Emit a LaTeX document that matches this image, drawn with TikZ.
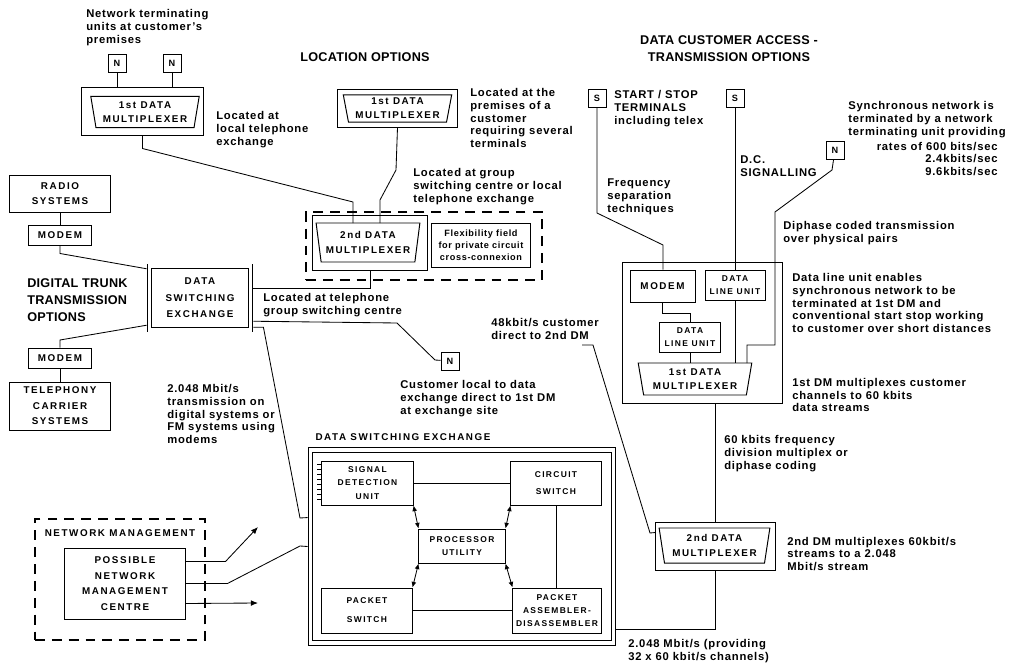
\documentclass[tikz,border=0pt]{standalone}
\usepackage{fontspec}
\setmainfont{Liberation Sans}[LetterSpace=7]
\newfontfamily\capsfont{Liberation Sans}[LetterSpace=16]
\newfontfamily\headfont{Liberation Sans}[LetterSpace=2]
\usetikzlibrary{positioning,shapes.geometric,arrows.meta,calc}

\newcommand\notesize{\bfseries\fontsize{8}{9.2}\selectfont}
\newcommand\boxfont{\capsfont\bfseries\fontsize{7}{11}\selectfont}
\newcommand\unitfont{\capsfont\bfseries\fontsize{6}{9.5}\selectfont}

\tikzset{
  box/.style={draw, line width=0.7pt, inner sep=0pt, align=center, font=\boxfont},
  unit/.style={box, font=\unitfont},
  dbox/.style={box, double, double distance=2.6pt, line width=0.6pt},
  tbox/.style={box, minimum size=0.45cm, font=\bfseries\fontsize{6.5}{7}\selectfont},
  mux/.style={draw, line width=0.7pt, trapezium, shape border rotate=180,
    trapezium stretches=true, trapezium angle=78, inner sep=0pt, align=center,
    font=\capsfont\bfseries\fontsize{7}{10}\selectfont},
  dashframe/.style={draw, line width=0.9pt, dash pattern=on 7pt off 5pt, inner sep=0pt},
  note/.style={anchor=west, align=left, inner sep=0pt, font=\notesize},
  head/.style={anchor=west, align=left, inner sep=0pt, font=\headfont\bfseries\fontsize{9}{12}\selectfont},
  wire/.style={line width=0.6pt},
  link/.style={wire, {Latex[length=4pt,width=3.5pt]}-{Latex[length=4pt,width=3.5pt]}},
  feed/.style={wire, -{Latex[length=5pt,width=4pt]}},
}

\begin{document}
\begin{tikzpicture}[x=0.025cm, y=-0.025cm]
\useasboundingbox (0,0) rectangle (1009,664);

% Opciones de localizacion
\node[note] (ntuText) at (86,28) {Network terminating\\units at customer's\\premises};
\node[tbox] (n1) at (117,63) {N};
\node[tbox] (n2) at (172,63) {N};
\node[box, minimum width=3.03cm, minimum height=1.2cm] (dm1a) at (142.5,111) {};
\node[mux, minimum width=2.72cm, minimum height=0.78cm] (dm1aT) at (145,112) {1st DATA\\MULTIPLEXER};
\draw[wire] (n1) -- (n1 |- dm1a.north);
\draw[wire] (n2) -- (n2 |- dm1a.north);
\node[note] (dm1aText) at (216,130) {Located at\\local telephone\\exchange};

\node[head, anchor=center] (locHead) at (365,57) {LOCATION OPTIONS};

\node[box, minimum width=2.98cm, minimum height=0.95cm] (dm1b) at (397.5,108) {};
\node[mux, minimum width=2.72cm, minimum height=0.68cm] (dm1bT) at (397.5,108.5) {1st DATA\\MULTIPLEXER};
\node[note] (dm1bText) at (470,118) {Located at the\\premises of a\\customer\\requiring several\\terminals};
\node[note] (siteText) at (413,187) {Located at group\\switching centre or local\\telephone exchange};

\node[dashframe, minimum width=5.9cm, minimum height=1.7cm] (site) at (424,246) {};
\node[box, minimum width=2.85cm, minimum height=1.375cm] (dm2a) at (370,242.5) {};
\node[mux, minimum width=2.6cm, minimum height=0.975cm] (dm2aT) at (368,242.5) {2nd DATA\\MULTIPLEXER};
\node[box, minimum width=2.45cm, minimum height=1.1cm, font=\bfseries\fontsize{6.5}{8.5}\selectfont] (flex) at (481,245) {Flexibility field\\for private circuit\\cross-connexion};
\coordinate (dm2aTop) at ($(dm2aT.center)+(0,-19.5)$);

\coordinate (k1) at (353,202);
\draw[wire] (dm1a.south) -- ++(0,13) -- (k1) -- (k1 |- dm2aTop);
\coordinate (k2) at (380,200);
\draw[wire] (dm1b.south) -- (396,170) -- (k2) -- (k2 |- dm2aTop);

% Transmision troncal
\node[dbox, minimum width=2.525cm, minimum height=1.59cm, font=\capsfont\bfseries\fontsize{7}{11.7}\selectfont] (dse) at (200,298) {DATA\\SWITCHING\\EXCHANGE};
\draw[wire] (dm2a.south) -- ++(0,18) coordinate (k3) -- ($(k3 -| dse.east)+(2.5,0)$);
\node[note] (dseText) at (263,305) {Located at telephone\\group switching centre};
\node[tbox] (n3) at (450,361) {N};
\draw[wire] ($(dse.south east)+(2.5,-9)$) -- (397,323) -- (435,360) -- (n3);
\node[note] (n3Text) at (400,399) {Customer local to data\\exchange direct to 1st DM\\at exchange site};

\node[box, minimum width=2.5cm, minimum height=0.925cm] (radio) at (60,193.5) {RADIO\\SYSTEMS};
\node[box, minimum width=1.55cm, minimum height=0.5cm] (modemA) at (60,235) {MODEM};
\draw[wire] (radio) -- (modemA);
\draw[wire] (modemA.south) -- ++(0,8) -- ($(dse.north west)+(-2.5,3)$);
\node[head] (dttHead) at (27,300) {DIGITAL TRUNK\\TRANSMISSION\\OPTIONS};
\node[box, minimum width=1.55cm, minimum height=0.5cm] (modemB) at (60,358) {MODEM};
\draw[wire] ($(dse.south west)+(-2.5,-5)$) -- (60,340) -- (modemB.north);
\node[box, minimum width=2.5cm, minimum height=1.2cm] (tel) at (60,406) {TELEPHONY\\CARRIER\\SYSTEMS};
\draw[wire] (modemB) -- (tel);
\node[note] (trunkText) at (167,414) {2.048 Mbit/s\\transmission on\\digital systems or\\FM systems using\\modems};

% Central de conmutacion de datos
\node[dbox, minimum width=7.575cm, minimum height=4.825cm] (xch) at (462,546.5) {};
\node[font=\boxfont, inner sep=0pt] (xchHead) at (403,437) {DATA SWITCHING EXCHANGE};
\draw[wire] ($(dse.south east)+(2.5,-3)$) -- ++(10,0) -- (300,518) -- ($(xch.north west)+(-2.5,68)$);

\node[unit, minimum width=2.275cm, minimum height=1.1cm] (sdu) at (367.5,483) {SIGNAL\\DETECTION\\UNIT};
\node[unit, minimum width=2.25cm, minimum height=1.1cm] (csw) at (556,483) {CIRCUIT\\[3pt]SWITCH};
\node[unit, minimum width=2.15cm, minimum height=0.85cm] (pu) at (462,546) {PROCESSOR\\UTILITY};
\node[unit, minimum width=2.25cm, minimum height=1.125cm] (psw) at (367,610.5) {PACKET\\[4pt]SWITCH};
\node[unit, minimum width=2.2cm, minimum height=1.125cm] (pad) at (557,610.5) {PACKET\\ASSEMBLER-\\DISASSEMBLER};

\draw[wire] (sdu) -- (csw);
\draw[wire] (psw) -- (pad);
\draw[wire] (csw.south) -- (csw.south |- pad.north);
\draw[link] (sdu.south east) -- (pu.north west);
\draw[link] (csw.south west) -- (pu.north east);
\draw[link] (pu.south west) -- (psw.north east);
\draw[link] (pu.south east) -- (pad.north west);
\foreach \t in {4,9,...,39}
  \draw[wire] ($(sdu.north west)+(0,\t)$) -- ++(-4,0);

% Gestion de red
\node[dashframe, minimum width=4.25cm, minimum height=3.025cm] (nm) at (120,579.5) {};
\node[font=\boxfont, inner sep=0pt] (nmHead) at (120,533) {NETWORK MANAGEMENT};
\node[box, minimum width=3cm, minimum height=1.775cm] (nmc) at (125,583.5) {POSSIBLE\\NETWORK\\MANAGEMENT\\CENTRE};
\coordinate (nmo1) at (258,527);
\coordinate (nmo3) at (258,603);
\draw[feed] ($(nmc.north east)+(0,14)$) -- ++(40,0) -- (nmo1);
\draw[wire] (nmc.east) -- ++(42,0) -- (300,546) -- ($(xch.west)+(-2.5,0)$);
\draw[feed] ($(nmc.south east)+(0,-16)$) -- (nmo3);

% Acceso de clientes
\node[head, anchor=center, align=center] (dcaHead) at (729,49) {DATA CUSTOMER ACCESS -\\TRANSMISSION OPTIONS};
\node[tbox] (s1) at (597,98) {S};
\node[note] (s1Text) at (614,109) {START / STOP\\TERMINALS\\including telex};
\node[tbox] (s2) at (735,98) {S};
\node[note] (s2Text) at (740,166) {D.C.\\SIGNALLING};
\node[tbox] (nR) at (835,150) {N};
\node[note] (syncText) at (848,120) {Synchronous network is\\terminated by a network\\terminating unit providing};
\node[note, anchor=east, align=right] (rateText) at (998,159) {rates of 600 bits/sec\\2.4kbits/sec\\9.6kbits/sec};
\node[note] (fsText) at (607,197) {Frequency\\separation\\techniques};
\node[note] (dipText) at (783,233) {Diphase coded transmission\\over physical pairs};

\node[box, minimum width=3.975cm, minimum height=3.5cm] (acc) at (702.5,333) {};
\node[box, minimum width=1.625cm, minimum height=0.8cm] (modemC) at (662.5,286) {MODEM};
\node[unit, minimum width=1.5cm, minimum height=0.75cm] (dluA) at (735,285) {DATA\\LINE UNIT};
\node[unit, minimum width=1.525cm, minimum height=0.75cm] (dluB) at (690,337) {DATA\\LINE UNIT};
\node[mux, minimum width=2.85cm, minimum height=0.8cm] (dm1c) at (695,379) {1st DATA\\MULTIPLEXER};
\coordinate (dm1cTop) at ($(dm1c.center)+(0,-16)$);

\coordinate (s1a) at (597,213);
\coordinate (s1b) at (663,245);
\draw[wire] (s1) -- (s1a) -- (s1b) -- (s1b |- modemC.north);
\draw[wire] (s2) -- (dluA);
\draw[wire] (dluA) -- (dluA |- dm1cTop);
\coordinate (nr1) at (775,212);
\coordinate (nr2) at (747,345);
\draw[wire] (nR) -- (832,170) -- (nr1) -- (nr1 |- nr2) -- (nr2) -- (nr2 |- dm1cTop);
\draw[wire] (modemC.south) -- ++(0,11) -| (dluB.north);
\draw[wire] (dluB) -- (dluB |- dm1cTop);

\node[note] (dluText) at (792,303) {Data line unit enables\\synchronous network to be\\terminated at 1st DM and\\conventional start stop working\\to customer over short distances};
\node[note] (dm1cText) at (792,395) {1st DM multiplexes customer\\channels to 60 kbits\\data streams};
\node[note] (c48Text) at (491,329) {48kbit/s customer\\direct to 2nd DM};
\node[note] (fdmText) at (724,454) {60 kbits frequency\\division multiplex or\\diphase coding};

\node[box, minimum width=2.975cm, minimum height=1.2cm] (dm2b) at (715.5,546) {};
\node[mux, minimum width=2.775cm, minimum height=0.875cm] (dm2bT) at (714.5,545.5) {2nd DATA\\MULTIPLEXER};
\coordinate (c48) at (582,345);
\draw[wire] (c48) -- ++(11,0) -- (650,533) -- ($(dm2b.north west)+(0,11)$);
\draw[wire] (dm2b.north |- acc.south) -- (dm2b.north);
\draw[wire] (dm2b.south) |- ($(xch.south east)+(2.5,-14)$);
\node[note] (dm2bText) at (787,554) {2nd DM multiplexes 60kbit/s\\streams to a 2.048\\Mbit/s stream};
\node[note] (outText) at (628,651) {2.048 Mbit/s (providing\\32 x 60 kbit/s channels)};
\end{tikzpicture}
\end{document}
